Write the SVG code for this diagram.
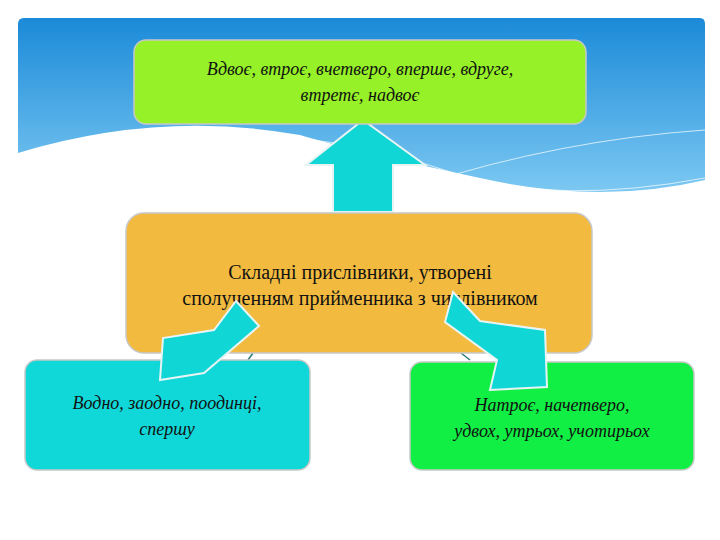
<svg xmlns="http://www.w3.org/2000/svg" width="720" height="540" viewBox="0 0 720 540">
<defs>
<linearGradient id="sky" x1="0" y1="0" x2="0" y2="1"><stop offset="0" stop-color="#1b8ad8"/><stop offset="1" stop-color="#7cc8f2"/></linearGradient>
<style>
.box{stroke:#c8c8c8;stroke-width:1.5}
.arr{fill:#11d6d6;stroke:#e8f4f4;stroke-width:2}
.t{font-family:"Liberation Serif",serif;text-anchor:middle;fill:#111}
.i{font-style:italic;font-size:18px}
</style>
</defs>
<rect width="720" height="540" fill="#fff"/>
<path d="M18,24 Q18,18 24,18 L700,18 Q705,18 705,24 L705,180 Q600,205 480,178 Q350,150 300,135 Q160,110 18,153 Z" fill="url(#sky)"/>
<path d="M160,140 Q300,120 460,175 Q560,205 705,178" fill="none" stroke="#fff" stroke-width="1" opacity="0.7"/>
<path d="M420,185 Q560,140 705,130" fill="none" stroke="#fff" stroke-width="1" opacity="0.7"/>
<g id="connectors">
<line x1="253" y1="353" x2="248" y2="360" stroke="#2a7a7a" stroke-width="1.5"/>
<line x1="461" y1="353" x2="470" y2="360" stroke="#2a7a7a" stroke-width="1.5"/>
<polygon class="arr" points="333,212 333,165 306,165 363,120 425,165 393,165 393,212"/>
</g>
<g id="top"><rect class="box" x="134" y="40" width="452" height="84" rx="12" fill="#96f128"/>
<text class="t i" x="360" y="75">Вдвоє, втроє, вчетверо, вперше, вдруге,</text>
<text class="t i" x="360" y="101">втретє, надвоє</text></g>
<g id="center"><rect class="box" x="126" y="213" width="466" height="140" rx="18" fill="#f2bb40"/>
<text class="t" x="360" y="279" font-size="20">Складні прислівники, утворені</text>
<text class="t" x="360" y="305" font-size="20">сполученням прийменника з числівником</text></g>
<g id="left"><rect class="box" x="25" y="360" width="285" height="110" rx="12" fill="#11d8d8"/>
<text class="t i" x="167" y="409">Водно, заодно, поодинці,</text>
<text class="t i" x="167" y="435">спершу</text></g>
<g id="right"><rect class="box" x="410" y="362" width="284" height="108" rx="12" fill="#11ee44"/>
<text class="t i" x="552" y="411">Натроє, начетверо,</text>
<text class="t i" x="552" y="437">удвох, утрьох, учотирьох</text></g>
<g id="arrows">
<polygon class="arr" points="236,301 259,326 204,373 160,380 163,338 214,330"/>
<polygon class="arr" points="453,292 445,322 497,360 490,390 547,387 545,330 480,321"/>
</g>
</svg>
